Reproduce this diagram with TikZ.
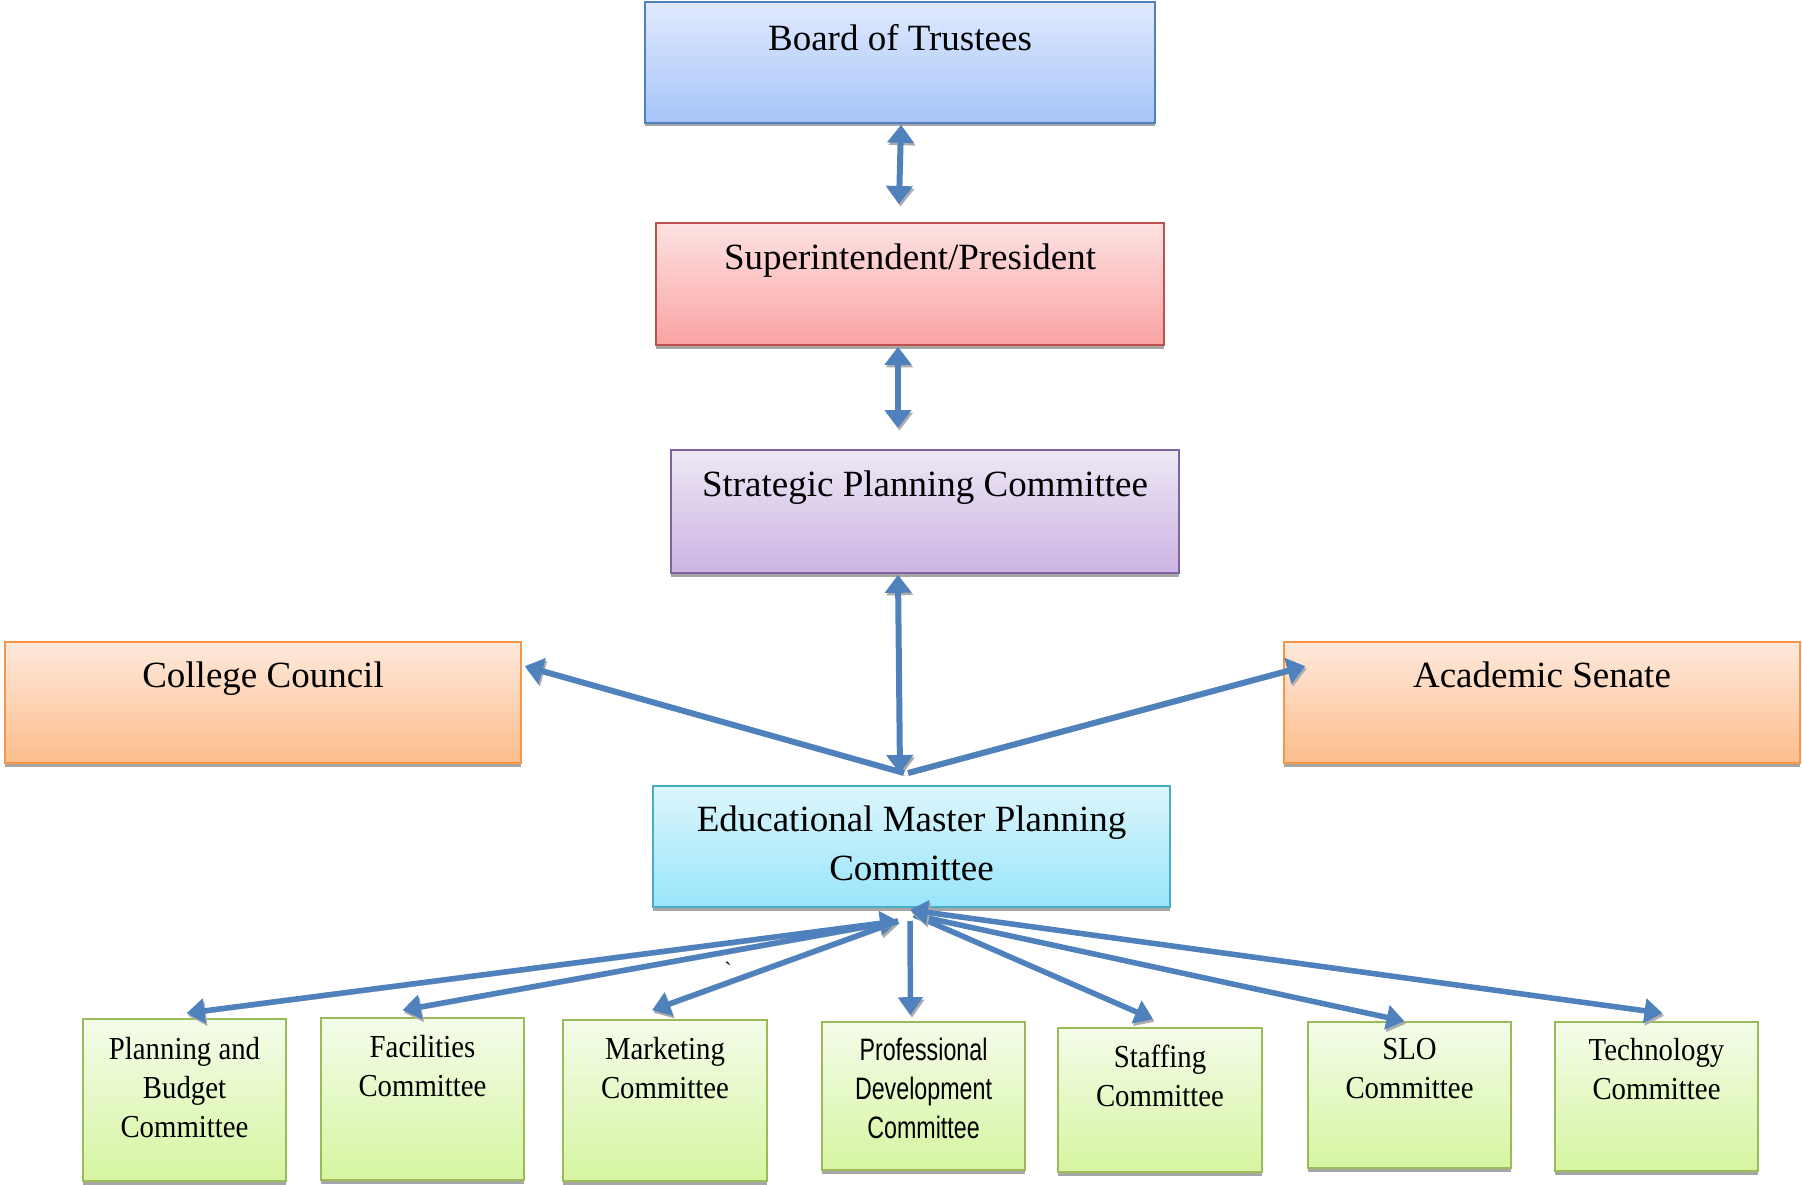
\documentclass[tikz,border=0pt]{standalone}
\usepackage{fontspec}
\setmainfont{Liberation Serif}
\newfontfamily\narrowserif[FakeStretch=0.9]{Liberation Serif}
\newfontfamily\narrowsans[FakeStretch=0.75]{Liberation Sans}
\usetikzlibrary{arrows.meta,shadows,calc}
\definecolor{arrowblue}{HTML}{4F81BD}
\definecolor{boardT}{HTML}{E0EAFE}\definecolor{boardB}{HTML}{A6C4F9}\definecolor{boardD}{HTML}{4F81BD}
\definecolor{superT}{HTML}{FDE2E2}\definecolor{superB}{HTML}{FBA3A3}\definecolor{superD}{HTML}{C0504D}
\definecolor{spcT}{HTML}{EEE8F5}\definecolor{spcB}{HTML}{CBB3E3}\definecolor{spcD}{HTML}{8064A2}
\definecolor{orT}{HTML}{FEE9DC}\definecolor{orB}{HTML}{FCBD8B}\definecolor{orD}{HTML}{F79646}
\definecolor{empT}{HTML}{DDF6FD}\definecolor{empB}{HTML}{98E5FA}\definecolor{empD}{HTML}{4BACC6}
\definecolor{grT}{HTML}{F4FCEA}\definecolor{grB}{HTML}{D6F5A0}\definecolor{grD}{HTML}{9BBB59}
\newcommand\bigfont{\fontsize{37}{49}\selectfont}
\newcommand\smallfont{\narrowserif\fontsize{32}{39}\selectfont}
\newcommand\sansfont{\narrowsans\fontsize{31}{39}\selectfont}
\newcommand\boxlabel[4]{\parbox[c][#2][t]{#1}{\centering\vspace*{#3}#4\par}}
\begin{document}
\begin{tikzpicture}[x=1pt,y=-1pt,
  box/.style={draw, line width=1.6pt, inner sep=0pt,
    drop shadow={shadow xshift=0pt, shadow yshift=-3.5pt, fill=gray!70, opacity=1}},
  big/.style={font=\bigfont},
  small/.style={font=\smallfont},
  blue box/.style={draw=boardD, top color=boardT, bottom color=boardB},
  red box/.style={draw=superD, top color=superT, bottom color=superB},
  violet box/.style={draw=spcD, top color=spcT, bottom color=spcB},
  orange box/.style={draw=orD, top color=orT, bottom color=orB},
  cyan box/.style={draw=empD, top color=empT, bottom color=empB},
  green box/.style={draw=grD, top color=grT, bottom color=grB},
  shadowed/.style={preaction={draw=gray!65, transform canvas={shift={(1.5pt,-2.5pt)}}}},
  conn/.style={draw=arrowblue, line width=6pt, shadowed,
    {Triangle[width=26pt,length=18pt]}-{Triangle[width=26pt,length=18pt]}},
  conn1/.style={draw=arrowblue, line width=6pt, shadowed,
    -{Triangle[width=26pt,length=18pt]}},
  subconn/.style={draw=arrowblue, line width=5.5pt, shadowed,
    {Triangle[width=24pt,length=18pt]}-{Triangle[width=24pt,length=18pt]}},
  subconn1/.style={draw=arrowblue, line width=5.5pt, shadowed,
    -{Triangle[width=24pt,length=18pt]}},
  ]
\useasboundingbox (0,0) rectangle (1802,1185);

% top chain
\node[box, big, blue box] (bot) at (900,62.5) {\boxlabel{510pt}{121pt}{22pt}{Board of Trustees}};
\node[box, big, red box] (sup) at (910,284) {\boxlabel{508pt}{122pt}{21pt}{Superintendent/President}};
\node[box, big, violet box] (spc) at (925,511.5) {\boxlabel{508pt}{123pt}{21pt}{Strategic Planning Committee}};
\node[box, big, orange box] (cc) at (263,702.5) {\boxlabel{516pt}{121pt}{20pt}{College Council}};
\node[box, big, orange box] (as) at (1542,702.5) {\boxlabel{516pt}{121pt}{20pt}{Academic Senate}};
\node[box, big, cyan box] (emp) at (911.5,846.5) {\boxlabel{517pt}{121pt}{20pt}{Educational Master Planning\\Committee}};

% bottom committees
\node[box, small, green box] (pb) at (184.5,1100) {\boxlabel{203pt}{162pt}{18pt}{Planning and\\Budget\\Committee}};
\node[box, small, green box] (fac) at (422.5,1099) {\boxlabel{203pt}{162pt}{17pt}{Facilities\\Committee}};
\node[box, small, green box] (mkt) at (665,1100.5) {\boxlabel{204pt}{161pt}{17pt}{Marketing\\Committee}};
\node[box, font=\sansfont, green box] (pd) at (923.5,1096) {\boxlabel{203pt}{148pt}{16pt}{Professional\\Development\\Committee}};
\node[box, small, green box] (stf) at (1160,1100) {\boxlabel{204pt}{144pt}{17pt}{Staffing\\Committee}};
\node[box, small, green box] (slo) at (1409.5,1095) {\boxlabel{203pt}{146pt}{16pt}{SLO\\Committee}};
\node[box, small, green box] (tech) at (1656.5,1096.5) {\boxlabel{203pt}{149pt}{16pt}{Technology\\Committee}};

% free ends / hubs
\coordinate (b1) at (899,204);
\coordinate (b2) at (898,428);
\coordinate (hubT) at (900,773);
\coordinate (hubTL) at (904,773);
\coordinate (hubTR) at (908,773);
\coordinate (hubL) at (898,921);
\coordinate (hubM) at (910,921);
\coordinate (hubR) at (914,915);
\coordinate (hubRT) at (910,910);

% top connectors
\draw[conn] ([xshift=1pt,yshift=-1pt]bot.south) -- (b1);
\draw[conn] ([xshift=-12pt,yshift=-1pt]sup.south) -- (b2);
\draw[conn] ([xshift=-27pt,yshift=-1pt]spc.south) -- (hubT);
\draw[conn1] (hubTL) -- ([xshift=3pt,yshift=-25pt]cc.north east);
\draw[conn1] (hubTR) -- ([xshift=22pt,yshift=-25pt]as.north west);

% bottom connectors
\draw[subconn] (hubL) -- ([xshift=2pt,yshift=5pt]pb.north);
\draw[subconn1] (hubL) -- ([xshift=-20pt,yshift=7pt]fac.north);
\draw[subconn1] (hubL) -- ([xshift=-13pt,yshift=9pt]mkt.north);
\draw[subconn1] (hubM) -- ([xshift=-13pt,yshift=6pt]pd.north);
\draw[subconn1] (hubR) -- ([xshift=-7pt,yshift=8pt]stf.north);
\draw[subconn1] (hubR) -- ([xshift=-5pt,yshift=0pt]slo.north);
\draw[subconn] (hubRT) -- ([xshift=6pt,yshift=8pt]tech.north);

\node[font=\fontsize{22}{22}\selectfont, inner sep=0pt] (tick) at (728,970) {\textasciigrave};
\end{tikzpicture}
\end{document}
